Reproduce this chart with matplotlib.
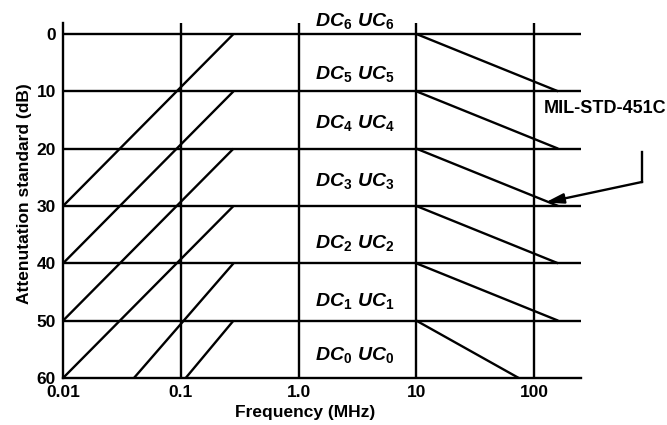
import matplotlib
matplotlib.use("Agg")
import matplotlib.pyplot as plt
import numpy as np

# ---------- DATA ----------

band_levels = [0, 10, 20, 30, 40, 50, 60]          # dB, horizontal lines
decades = [0.1, 1.0, 10, 100]                      # MHz, vertical lines
x_tick_vals = [0.01, 0.1, 1.0, 10, 100]
x_tick_labels = ["0.01", "0.1", "1.0", "10", "100"]
y_tick_vals = [0, 10, 20, 30, 40, 50, 60]

# low-frequency rising lines (start -> end)
low_x0 = [0.01, 0.01, 0.01, 0.01, 0.04, 0.11]
low_y0 = [30, 40, 50, 60, 60, 60]
low_x1 = [0.28, 0.28, 0.28, 0.28, 0.28, 0.28]
low_y1 = [0, 10, 20, 30, 40, 50]

# high-frequency falling lines (start -> end)
high_x0 = [10, 10, 10, 10, 10, 10]
high_y0 = [0, 10, 20, 30, 40, 50]
high_x1 = [160, 160, 160, 160, 160, 74]
high_y1 = [10, 20, 30, 40, 50, 60]

# class labels
class_names = [r"$\mathit{DC_%d\ UC_%d}$" % (k, k) for k in range(6, -1, -1)]
class_y = [-2.2, 7.0, 15.5, 25.7, 36.5, 46.5, 56.0]
class_x = 3.0

# ---------- STYLE ----------

plt.rcParams["font.family"] = ["Liberation Sans", "DejaVu Sans"]
plt.rcParams["mathtext.fontset"] = "custom"
plt.rcParams["mathtext.it"] = "Liberation Sans:italic:bold"
plt.rcParams["mathtext.rm"] = "Liberation Sans:bold"
plt.rcParams["mathtext.bf"] = "Liberation Sans:bold"

LW = 1.7

fig = plt.figure(figsize=(6.67, 4.25), dpi=100)
ax = fig.add_axes([0.0945, 0.1106, 0.7766, 0.8353])

ax.set_xscale("log")
ax.set_xlim(0.01, 250)
ax.set_ylim(60, -1.92)

# grid lines
for v in decades:
    ax.axvline(v, color="black", lw=LW)
for h in band_levels[:-1]:
    ax.axhline(h, color="black", lw=LW)

# slopes
for x0, y0, x1, y1 in zip(low_x0, low_y0, low_x1, low_y1):
    ax.plot([x0, x1], [y0, y1], color="black", lw=LW, solid_capstyle="butt")
for x0, y0, x1, y1 in zip(high_x0, high_y0, high_x1, high_y1):
    ax.plot([x0, x1], [y0, y1], color="black", lw=LW, solid_capstyle="butt")

# band labels
for name, y in zip(class_names, class_y):
    ax.text(class_x, y, name, ha="center", va="center", fontsize=14, clip_on=False)

# axes look
for side in ["top", "right"]:
    ax.spines[side].set_visible(False)
for side in ["left", "bottom"]:
    ax.spines[side].set_linewidth(LW)
ax.set_xticks(x_tick_vals)
ax.set_xticklabels(x_tick_labels)
ax.set_yticks(y_tick_vals)
ax.xaxis.set_minor_locator(matplotlib.ticker.NullLocator())
ax.tick_params(axis="both", length=0, labelsize=12.5)
ax.tick_params(axis="x", pad=5)
ax.tick_params(axis="y", pad=5)
for lab in ax.get_xticklabels() + ax.get_yticklabels():
    lab.set_fontweight("bold")

ax.set_xlabel("Frequency (MHz)", fontsize=12.5, fontweight="bold")
ax.set_ylabel("Attenutation standard (dB)", fontsize=12.5, fontweight="bold")
ax.xaxis.set_label_coords(0.467, -0.075)
ax.yaxis.set_label_coords(-0.06, 0.52)

# MIL-STD-451C callout
ax.text(400, 13, "MIL-STD-451C", ha="center", va="center", fontsize=13,
        fontweight="bold", clip_on=False)
ax.plot([826, 826], [20.6, 25.8], color="black", lw=LW, clip_on=False)
ax.annotate("", xy=(124, 29.4), xytext=(826, 25.8),
            arrowprops=dict(arrowstyle="-|>,head_length=1.1,head_width=0.3",
                            color="black", lw=LW, shrinkA=0, shrinkB=0),
            annotation_clip=False)

fig.savefig("out.png", dpi=100)
